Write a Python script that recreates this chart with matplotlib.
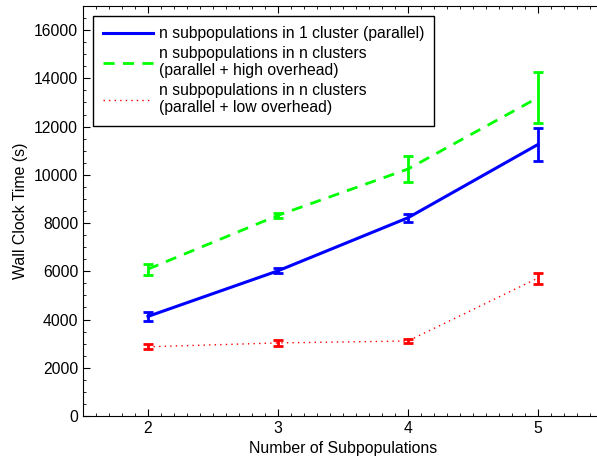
import matplotlib
matplotlib.use("Agg")
import matplotlib.pyplot as plt
from matplotlib.lines import Line2D
from matplotlib.ticker import MultipleLocator

plt.rcParams['font.family'] = ['Liberation Sans', 'DejaVu Sans']

# données
subpops = [2, 3, 4, 5]
one_cluster = [4130, 6020, 8220, 11260]
one_cluster_err = [200, 110, 160, 690]
high_overhead = [6090, 8320, 10240, 13200]
high_overhead_err = [230, 100, 520, 1070]
low_overhead = [2870, 3030, 3110, 5720]
low_overhead_err = [110, 130, 90, 230]

labels = ["n subpopulations in 1 cluster (parallel)",
          "n subpopulations in n clusters\n(parallel + high overhead)",
          "n subpopulations in n clusters\n(parallel + low overhead)"]

fig = plt.figure(figsize=(5.97, 4.63), dpi=100)
ax = fig.add_axes([83 / 597, 47 / 463, 520 / 597, 410 / 463])

styles = [dict(color='#0000ff', lw=2.2, ls='-'),
          dict(color='#00ff00', lw=2, ls=(0, (4, 3))),
          dict(color='#ff0000', lw=1, ls=(0, (1, 3)))]

series = [(one_cluster, one_cluster_err), (high_overhead, high_overhead_err),
          (low_overhead, low_overhead_err)]

handles = []
for (vals, err), st in zip(series, styles):
    ax.errorbar(subpops, vals, yerr=err, capsize=3.5, capthick=2, elinewidth=2, **st)
    handles.append(Line2D([], [], **st))

ax.set_xlim(1.5, 5.5)
ax.set_ylim(0, 17000)
ax.set_xticks(subpops)
ax.xaxis.set_minor_locator(MultipleLocator(0.1))
ax.yaxis.set_major_locator(MultipleLocator(2000))
ax.yaxis.set_minor_locator(MultipleLocator(500))
ax.tick_params(which='both', direction='in', top=True, right=False, labelsize=11.3)
ax.tick_params(which='major', length=5)
ax.tick_params(which='minor', length=2.5)
ax.spines['right'].set_visible(False)

ax.set_xlabel("Number of Subpopulations", fontsize=11.4)
ax.set_ylabel("Wall Clock Time (s)", fontsize=11.4)

leg = ax.legend(handles, labels, loc='upper left', bbox_to_anchor=(10 / 520, 1 - 10 / 410),
                borderaxespad=0, fancybox=False, framealpha=1, edgecolor='black',
                fontsize=11.3, handlelength=3.2, labelspacing=0.3, borderpad=0.65,
                handletextpad=0.35)
leg.get_frame().set_linewidth(1)

fig.savefig("out.png", dpi=100)
